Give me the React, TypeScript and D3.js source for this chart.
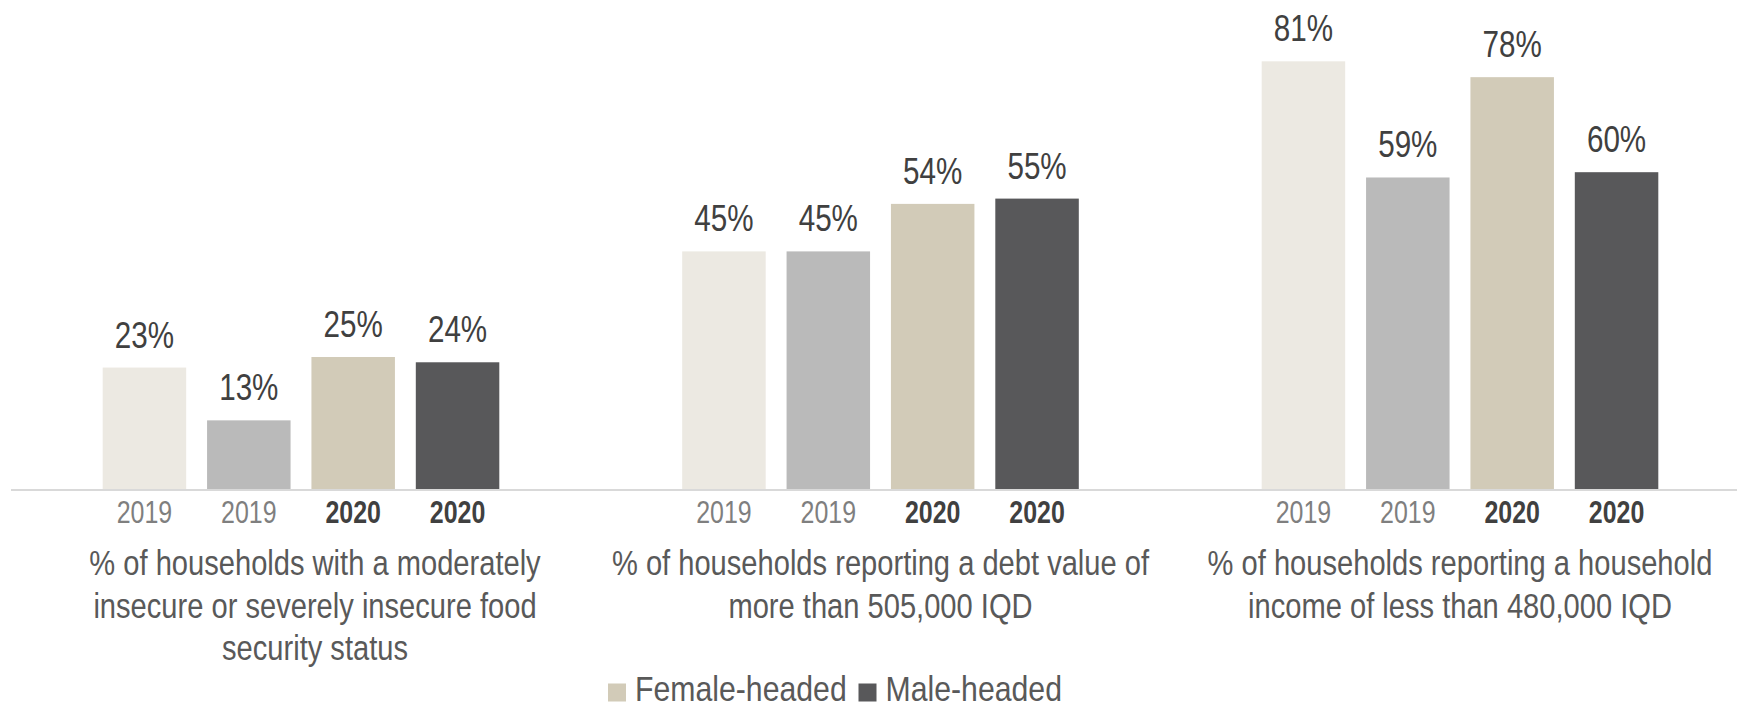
import React from 'react';
import * as d3 from 'd3';

// ---- data ----
const groupKeys = ['food', 'debt', 'income'];
const groupTitles: string[][] = [
  ['% of households with a moderately', 'insecure or severely insecure food', 'security status'],
  ['% of households reporting a debt value of', 'more than 505,000 IQD'],
  ['% of households reporting a household', 'income of less than 480,000 IQD'],
];
const seriesKeys = ['f2019', 'm2019', 'f2020', 'm2020'];
const seriesYears = ['2019', '2019', '2020', '2020'];
const female2019 = [23, 45, 81];
const male2019 = [13, 45, 59];
const female2020 = [25, 54, 78];
const male2020 = [24, 55, 60];
const legendLabels = ['Female-headed', 'Male-headed'];

// ---- styles ----
const seriesValues = [female2019, male2019, female2020, male2020];
const seriesColors = ['#ECE9E2', '#BABABA', '#D2CBB8', '#58585A'];
const yearStyle = [
  { fill: '#7F7F7F', weight: 400 },
  { fill: '#7F7F7F', weight: 400 },
  { fill: '#404040', weight: 700 },
  { fill: '#404040', weight: 700 },
];
const legendColors = ['#D2CBB8', '#58585A'];
const titleShift = [14, 0, 0];

const W = 1737;
const H = 705;
const baseY = 489;
const font = '"Liberation Sans", Arial, sans-serif';
const SX = 0.82; // emulate Arial Narrow

function NText(props: {
  x: number;
  y: number;
  size: number;
  fill: string;
  anchor?: string;
  weight?: number;
  sx?: number;
  children: React.ReactNode;
}) {
  const { x, y, size, fill, anchor = 'middle', weight = 400, sx = SX, children } = props;
  return (
    <text
      transform={`translate(${x},${y}) scale(${sx},1)`}
      textAnchor={anchor}
      fontFamily={font}
      fontSize={size}
      fontWeight={weight}
      fill={fill}
    >
      {children}
    </text>
  );
}

export default function App() {
  const x0 = d3.scaleBand<string>().domain(groupKeys).range([11.25, 11.25 + 579.5 * 3]);
  const x1 = d3.scaleBand<string>().domain(seriesKeys).range([-198.3, 198.3]).paddingInner(0.2);
  const y = d3.scaleLinear().domain([0, 100]).range([baseY, baseY - 528]);

  const legendX = [608, 858.5];

  return (
    <svg width={W} height={H} style={{ position: 'absolute', left: 0, top: 0, background: '#fff' }}>
      {groupKeys.map((g, gi) => {
        const cx = (x0(g) as number) + x0.bandwidth() / 2;
        return (
          <g key={g}>
            {seriesKeys.map((s, si) => {
              const v = seriesValues[si][gi];
              const bx = cx + (x1(s) as number);
              const mid = bx + x1.bandwidth() / 2;
              return (
                <g key={s}>
                  <rect x={bx} y={y(v)} width={x1.bandwidth()} height={baseY - y(v)} fill={seriesColors[si]} />
                  <NText x={mid} y={y(v) - 20} size={37} sx={0.8} fill="#404040">
                    {v}%
                  </NText>
                  <NText
                    x={mid}
                    y={522.5}
                    size={32}
                    sx={0.78}
                    weight={yearStyle[si].weight}
                    fill={yearStyle[si].fill}
                  >
                    {seriesYears[si]}
                  </NText>
                </g>
              );
            })}
            {groupTitles[gi].map((line, li) => (
              <NText key={li} x={cx + titleShift[gi]} y={575 + li * 42.5} size={35.5} fill="#595959">
                {line}
              </NText>
            ))}
          </g>
        );
      })}
      <line x1={11} x2={W} y1={baseY + 1} y2={baseY + 1} stroke="#D9D9D9" strokeWidth={2} />
      {legendLabels.map((l, i) => (
        <g key={l}>
          <rect x={legendX[i]} y={683.5} width={18} height={18} fill={legendColors[i]} />
          <NText x={legendX[i] + 27} y={701} size={36} sx={0.84} anchor="start" fill="#595959">
            {l}
          </NText>
        </g>
      ))}
    </svg>
  );
}
